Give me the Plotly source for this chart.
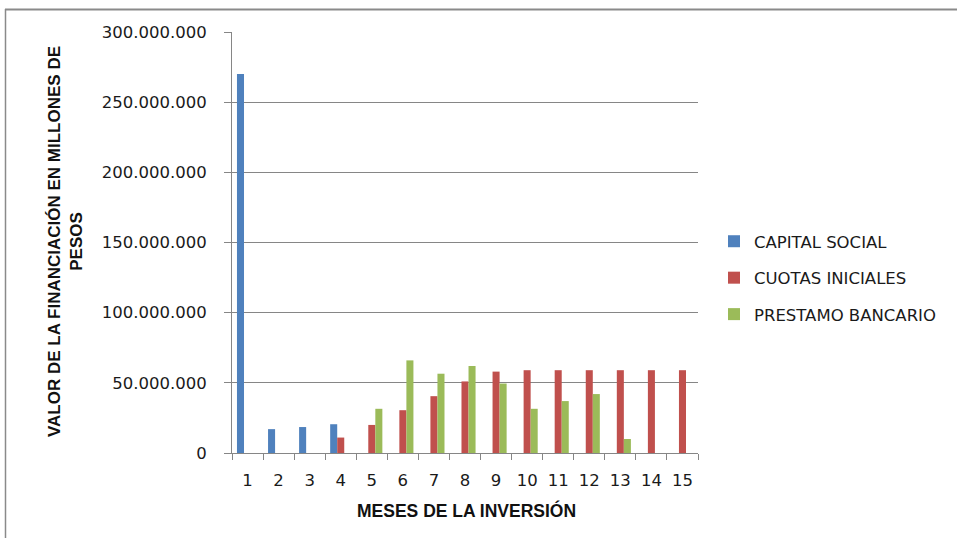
import plotly.graph_objects as go

months = [str(m) for m in range(1, 16)]
capital_social = [270_000_000, 17_000_000, 18_500_000, 20_500_000] + [None] * 11
cuotas_iniciales = [None, None, None, 11_000_000, 20_000_000, 30_500_000, 40_500_000,
                    51_000_000, 58_000_000, 59_000_000, 59_000_000, 59_000_000,
                    59_000_000, 59_000_000, 59_000_000]
prestamo_bancario = [None, None, None, None, 31_500_000, 66_000_000, 56_500_000,
                     62_000_000, 49_500_000, 31_500_000, 37_000_000, 42_000_000,
                     10_000_000, None, None]

series = [
    ("CAPITAL SOCIAL", capital_social, "#4F81BD"),
    ("CUOTAS INICIALES", cuotas_iniciales, "#C0504D"),
    ("PRESTAMO BANCARIO", prestamo_bancario, "#9BBB59"),
]

FONT = "DejaVu Sans, Liberation Sans, Arial, sans-serif"
TITLE_FONT = "Liberation Sans, Arial, sans-serif"
TEXT = "#1a1a1a"

fig = go.Figure()
for i, (name, vals, color) in enumerate(series):
    fig.add_trace(go.Bar(
        x=months, y=vals, name=name, marker_color=color,
        marker_line_width=0, legendgroup=f"g{i}",
    ))

# plot-area pixel geometry (957x538 canvas)
L, R, T, B = 232, 698, 32, 453
W, H = R - L, B - T

def px_x(p):
    return (p - L) / W

def px_y(p):
    return (B - p) / H

fig.update_layout(
    width=957, height=538,
    margin=dict(l=L, r=957 - R, t=T, b=538 - B),
    paper_bgcolor="white", plot_bgcolor="white",
    barmode="group", bargap=0.32, bargroupgap=0,
    separators=",.",
    font=dict(family=FONT, size=15, color=TEXT),
    showlegend=True,
    legend=dict(
        x=px_x(714), y=px_y(224), xanchor="left", yanchor="top",
        font=dict(family=FONT, size=16.5, color=TEXT),
        tracegroupgap=12, bgcolor="rgba(0,0,0,0)",
    ),
    xaxis=dict(
        type="category", range=[-0.5, 14.5],
        showline=True, linecolor="#868686", linewidth=1,
        ticks="outside", tickson="boundaries", ticklen=6, tickcolor="#868686",
        tickfont=dict(family=FONT, size=16.5, color=TEXT),
        ticklabelstandoff=12,
        showgrid=False, fixedrange=True,
    ),
    yaxis=dict(
        range=[0, 300_000_000], dtick=50_000_000, tickformat=",d",
        showline=True, linecolor="#868686", linewidth=1,
        ticks="outside", ticklen=7, tickcolor="#868686",
        showgrid=True, gridcolor="#868686", gridwidth=1,
        tickfont=dict(family=FONT, size=16.5, color=TEXT),
        ticklabelstandoff=14,
        zeroline=False, fixedrange=True,
    ),
)

# axis titles
fig.add_annotation(
    text="<b>VALOR DE LA FINANCIACIÓN EN MILLONES DE<br>PESOS</b>",
    xref="paper", yref="paper", x=px_x(65), y=px_y(242),
    xanchor="center", yanchor="middle",
    textangle=-90, showarrow=False,
    font=dict(family=TITLE_FONT, size=17, color="#111111"),
)
fig.add_annotation(
    text="<b>MESES DE LA INVERSIÓN</b>",
    xref="paper", yref="paper", x=px_x(466), y=px_y(510),
    xanchor="center", yanchor="middle",
    showarrow=False,
    font=dict(family=TITLE_FONT, size=17.5, color="#111111"),
)

# outer chart frame
fig.add_shape(type="line", xref="paper", yref="paper",
              x0=px_x(5), x1=px_x(960), y0=px_y(9.5), y1=px_y(9.5),
              line=dict(color="#8a8a8a", width=2))
fig.add_shape(type="line", xref="paper", yref="paper",
              x0=px_x(5.5), x1=px_x(5.5), y0=px_y(9), y1=px_y(540),
              line=dict(color="#8a8a8a", width=1.5))

fig.write_html("out.html")
